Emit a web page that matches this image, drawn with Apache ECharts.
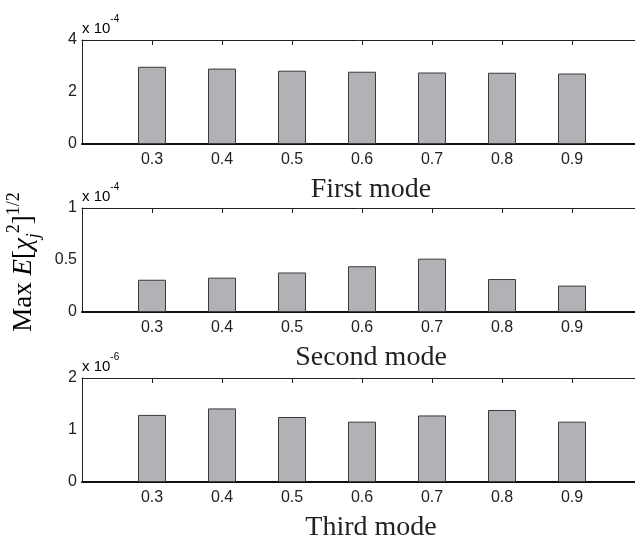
<!DOCTYPE html>
<html>
<head>
<meta charset="utf-8">
<script src="https://cdn.jsdelivr.net/npm/echarts@6/dist/echarts.min.js"></script>
<style>
  html, body { margin: 0; padding: 0; background: #fff; }
  #main { width: 635px; height: 536px; }
</style>
</head>
<body>
<div id="main"></div>
<script>
// x positions (damping ratio) and max response per mode
const ratios = [0.3, 0.4, 0.5, 0.6, 0.7, 0.8, 0.9];
const firstMode = [2.97, 2.90, 2.82, 2.78, 2.75, 2.74, 2.71];   // x 1e-4
const secondMode = [0.31, 0.33, 0.38, 0.44, 0.513, 0.317, 0.254]; // x 1e-4
const thirdMode = [1.29, 1.415, 1.25, 1.16, 1.28, 1.385, 1.16]; // x 1e-6

const titles = ["First mode", "Second mode", "Third mode"];
const exponents = ["-4", "-4", "-6"];
const yMax = [4, 1, 2];
const yStep = [2, 0.5, 1];
const modes = [firstMode, secondMode, thirdMode];

const gridTop = [40, 208, 378];
const gridH = 104;
const sans = "Liberation Sans";
const serif = "Liberation Serif";
// axis runs 0.2 .. 1.0 but the right end is cut off by the window
const xMin = 0.2, xMax = 0.99, gridW = 553;

let chart = echarts.init(document.getElementById("main"));

let grids = [], xAxes = [], yAxes = [], series = [], titleList = [], graphics = [];

modes.forEach((vals, i) => {
    grids.push({left: 82, top: gridTop[i], width: gridW, height: gridH});
    // bottom axis with labels
    xAxes.push({
        type: "value", gridIndex: i, min: xMin, max: xMax, interval: 0.1,
        axisLine: {show: true, onZero: false, lineStyle: {color: "#111", width: 2}},
        axisTick: {show: false},
        splitLine: {show: false},
        axisLabel: {
            color: "#222", fontFamily: sans, fontSize: 16, margin: 8,
            showMaxLabel: false,
            formatter: (v) => {
                let r = Math.round(v * 10) / 10;
                return (r > 0.25 && r < 0.95) ? r.toFixed(1) : "";
            }
        }
    });
    // top axis: box edge + inward ticks
    xAxes.push({
        type: "value", gridIndex: i, position: "top", min: xMin, max: xMax, interval: 0.1,
        axisLine: {show: true, onZero: false, lineStyle: {color: "#222", width: 1}},
        axisTick: {show: true, inside: true, length: 5, lineStyle: {color: "#222"}},
        axisLabel: {show: false},
        splitLine: {show: false}
    });
    yAxes.push({
        type: "value", gridIndex: i, min: 0, max: yMax[i], interval: yStep[i],
        axisLine: {show: true, lineStyle: {color: "#222", width: 1}},
        axisTick: {show: false},
        splitLine: {show: false},
        axisLabel: {color: "#222", fontFamily: sans, fontSize: 16, margin: 5}
    });
    series.push({
        type: "bar",
        xAxisIndex: i * 2,
        yAxisIndex: i,
        barWidth: 28,
        data: ratios.map((r, k) => [r, vals[k]]),
        itemStyle: {color: "#b2b2b6", borderColor: "#3a3a3a", borderWidth: 1},
        silent: true
    });
    titleList.push({
        text: titles[i],
        left: 366, top: gridTop[i] + gridH + 27,
        textAlign: "center",
        textStyle: {fontFamily: serif, fontSize: 28, fontWeight: "normal", color: "#222"}
    });
    graphics.push({
        type: "text",
        left: 82, top: gridTop[i] - 26,
        style: {
            text: "{n|x 10}{s|" + exponents[i] + "}",
            rich: {
                n: {fontFamily: sans, fontSize: 15, color: "#222", lineHeight: 22, verticalAlign: "bottom"},
                s: {fontFamily: sans, fontSize: 10, color: "#222", lineHeight: 10, verticalAlign: "top"}
            }
        }
    });
});

// rotated y label: Max E[chi_j^2]^(1/2)
graphics.push({
    type: "text",
    x: 24, y: 262,
    rotation: Math.PI / 2,
    style: {
        text: "{n|Max }{i|E}{n|[}{i|χ}{sb|j}{sp|2}{n|]}{sp|1/2}",
        align: "center",
        verticalAlign: "middle",
        rich: {
            n: {fontFamily: serif, fontSize: 27, color: "#222", lineHeight: 38, verticalAlign: "middle"},
            i: {fontFamily: serif, fontSize: 27, fontStyle: "italic", color: "#222", lineHeight: 38, verticalAlign: "middle"},
            sp: {fontFamily: serif, fontSize: 18, color: "#222", lineHeight: 18, verticalAlign: "top"},
            sb: {fontFamily: serif, fontSize: 18, fontStyle: "italic", color: "#222", lineHeight: 18, verticalAlign: "bottom"}
        }
    }
});

let option = {
    backgroundColor: "#fff",
    animation: false,
    title: titleList,
    grid: grids,
    xAxis: xAxes,
    yAxis: yAxes,
    series: series,
    graphic: graphics
};
chart.setOption(option);
</script>
</body>
</html>
